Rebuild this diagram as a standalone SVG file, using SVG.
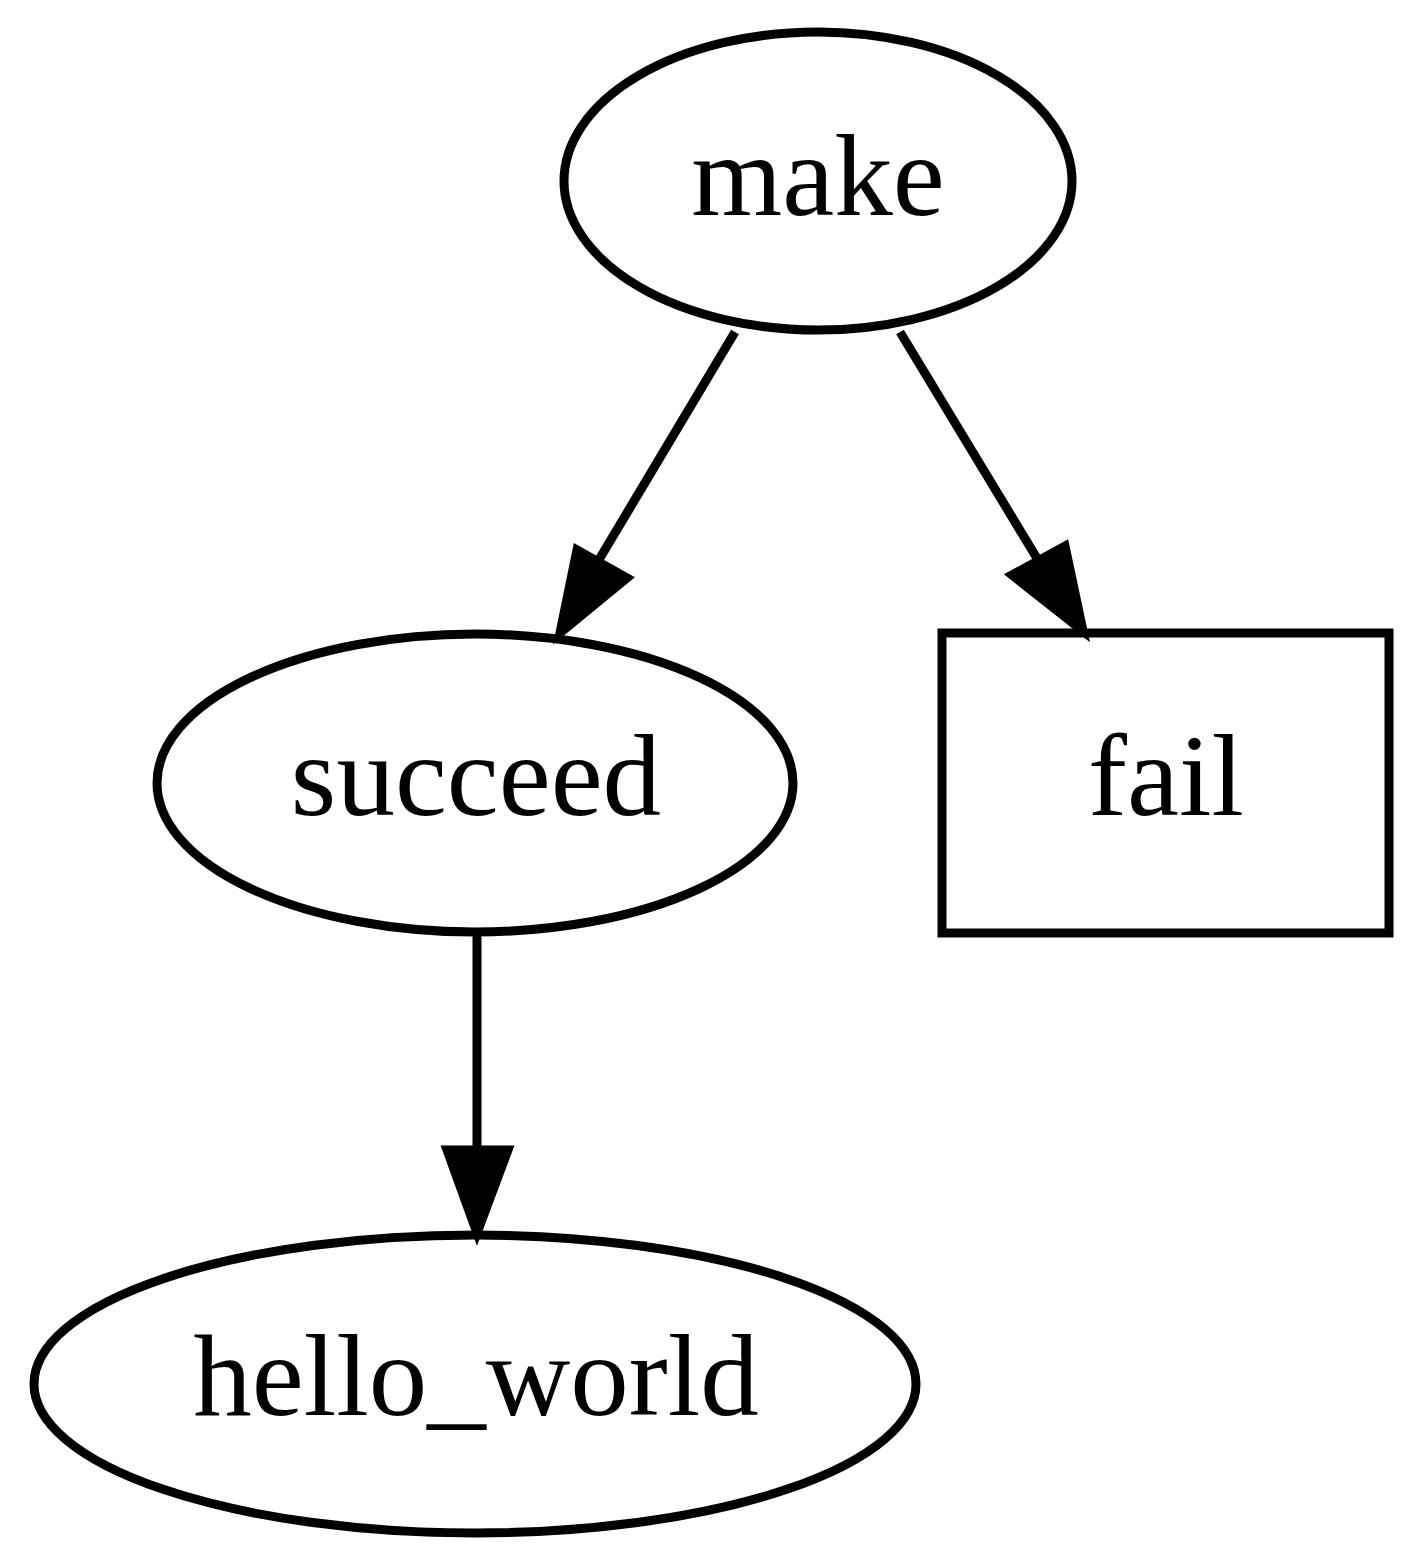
<svg xmlns="http://www.w3.org/2000/svg" width="1425" height="1567" viewBox="0 0 1425 1567">
<style>
.n{fill:none;stroke:#000;stroke-width:9}
.t{font-family:"Liberation Serif","Times New Roman",serif;font-size:117px;text-anchor:middle;fill:#000}
.e{fill:none;stroke:#000;stroke-width:9}
.a{fill:#000;stroke:#000;stroke-width:9}
</style>
<rect width="1425" height="1567" fill="#fff"/>
<g id="connectors">
<g id="make-succeed"><path class="e" d="M735,332 L600,558"/><polygon class="a" points="577,550 627,578 560,633"/></g>
<g id="make-fail"><path class="e" d="M900,332 L1038,560"/><polygon class="a" points="1012,575 1065,546 1083,631"/></g>
<g id="succeed-hello"><path class="e" d="M477,934 L477,1148"/><polygon class="a" points="447,1150 508,1150 477,1233"/></g>
</g>
<g id="make"><ellipse class="n" cx="818" cy="181" rx="254" ry="149"/><text class="t" x="818" y="215">make</text></g>
<g id="succeed"><ellipse class="n" cx="475" cy="783" rx="318" ry="149"/><text class="t" x="476" y="815">succeed</text></g>
<g id="fail"><rect class="n" x="942" y="633" width="447" height="300"/><text class="t" x="1166" y="815">fail</text></g>
<g id="hello_world"><ellipse class="n" cx="475" cy="1384" rx="441" ry="149"/><text class="t" x="476" y="1415">hello_world</text></g>
</svg>
